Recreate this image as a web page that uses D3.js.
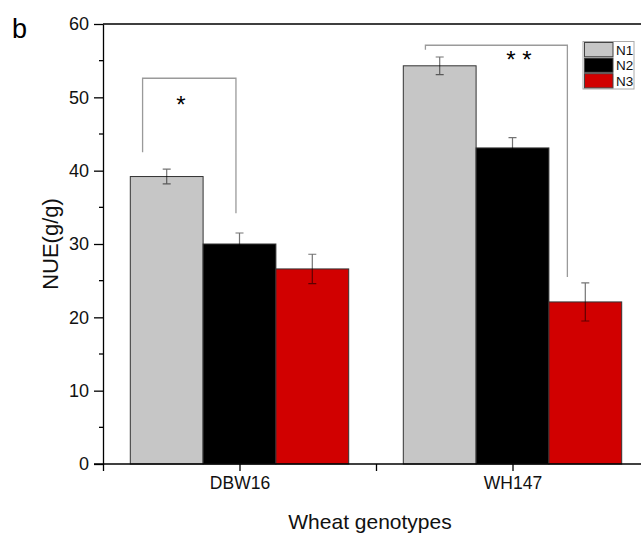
<!DOCTYPE html>
<html lang="en">
<head>
<meta charset="UTF-8">
<title>NUE bar chart</title>
<style>
  body { margin: 0; background: #fff; }
  svg { font-family: "Liberation Sans", Arial, sans-serif; display: block; }
  .bar { stroke: #333; stroke-width: 1px; }
  .err { stroke: rgba(0,0,0,0.55); stroke-width: 1.2px; }
  .bracket { fill: none; stroke: #9a9a9a; stroke-width: 1.3px; }
  .axis path, .axis line { stroke: #000; stroke-width: 1.3px; }
</style>
</head>
<body>
<svg width="641" height="533"></svg>
<script src="https://d3js.org/d3.v7.min.js"></script>
<script>
// data
const genotypes = ["DBW16", "WH147"];
const levels = ["N1", "N2", "N3"];
const colors = ["#c6c6c6", "#000000", "#d10000"];
const nue = [
  [39.2, 30.0, 26.6],   // DBW16
  [54.3, 43.1, 22.1]    // WH147
];
const sd = [
  [1.0, 1.5, 2.0],
  [1.2, 1.4, 2.6]
];
const yTicks = [0, 10, 20, 30, 40, 50, 60];

// significance brackets, in data units (x = category index)
const brackets = [
  { x1: 0.645, x2: 0.987, top: 52.6, left: 42.5, right: 34.2, label: "*",   lx: 0.785, ly: 49.6 },
  { x1: 1.681, x2: 2.201, top: 57.1, left: 56.5, right: 25.5, label: "* *", lx: 2.024, ly: 55.8 }
];

const svg = d3.select("svg");

// x position 1 = DBW16, 2 = WH147; frame runs 0.5 .. 2.5
const x = d3.scaleLinear().domain([0.5, 2.5]).range([103, 649]);
const y = d3.scaleLinear().domain([0, 60]).range([464, 24]);

const groupW = 0.8;
const barW = groupW / levels.length;

// frame top + right (right side falls off the picture)
svg.append("path")
  .attr("d", `M${x(0.5)},${y(60)}H${x(2.5)}V${y(0)}`)
  .attr("fill", "none").attr("stroke", "#000").attr("stroke-width", 1.3);

// bars
const g = svg.append("g");
genotypes.forEach((gen, i) => {
  levels.forEach((lv, j) => {
    const x0 = (i + 1) - groupW / 2 + j * barW;
    g.append("rect").attr("class", "bar")
      .attr("x", x(x0)).attr("width", x(x0 + barW) - x(x0))
      .attr("y", y(nue[i][j])).attr("height", y(0) - y(nue[i][j]))
      .attr("fill", colors[j]);
    const cx = x(x0 + barW / 2);
    const hi = y(nue[i][j] + sd[i][j]), lo = y(nue[i][j] - sd[i][j]);
    g.append("path").attr("class", "err")
      .attr("d", `M${cx},${hi}V${lo}M${cx - 4},${hi}H${cx + 4}M${cx - 4},${lo}H${cx + 4}`);
  });
});

// axes
const yAxis = svg.append("g").attr("class", "axis")
  .attr("transform", `translate(${x(0.5)},0)`)
  .call(d3.axisLeft(y).tickValues(yTicks).tickSize(9).tickSizeOuter(0).tickPadding(5))
  .attr("font-family", null).attr("font-size", 18);
yAxis.selectAll("text").attr("fill", "#111");
yAxis.selectAll(".minor").data(d3.range(5, 60, 10)).enter().append("line")
  .attr("x1", -4).attr("x2", 0).attr("y1", d => y(d)).attr("y2", d => y(d))
  .attr("stroke", "#000").attr("stroke-width", 1.3);

const xAxis = svg.append("g").attr("class", "axis")
  .attr("transform", `translate(0,${y(0)})`)
  .call(d3.axisBottom(x).tickValues([0.5, 1, 1.5, 2, 2.5])
    .tickFormat(d => Number.isInteger(d) ? genotypes[d - 1] : "")
    .tickSize(7).tickSizeOuter(0).tickPadding(6))
  .attr("font-family", null).attr("font-size", 17.5);
xAxis.selectAll("text").attr("fill", "#111");
xAxis.select(".domain").attr("d", `M94,0H${x(2.5)}`);

// brackets
brackets.forEach(b => {
  svg.append("path").attr("class", "bracket")
    .attr("d", `M${x(b.x1)},${y(b.left)}V${y(b.top)}H${x(b.x2)}V${y(b.right)}`);
  svg.append("text").attr("x", x(b.lx)).attr("y", y(b.ly) + 13)
    .attr("text-anchor", "middle").attr("font-size", 24)
    .text(b.label);
});

// legend
const lg = svg.append("g").attr("transform", "translate(583,41.5)");
lg.append("rect").attr("width", 51).attr("height", 47.5)
  .attr("fill", "#fff").attr("stroke", "#aaa").attr("stroke-width", 1);
levels.forEach((lv, j) => {
  lg.append("rect").attr("x", 1.5).attr("y", 1 + j * 15.6)
    .attr("width", 28.5).attr("height", 14.2)
    .attr("fill", colors[j]).attr("stroke", "#444").attr("stroke-width", 1);
  lg.append("text").attr("x", 33).attr("y", 13 + j * 15.6)
    .attr("font-size", 13.5).attr("fill", "#111").text(lv);
});

// labels
svg.append("text").attr("transform", `translate(58,${y(30)}) rotate(-90)`)
  .attr("text-anchor", "middle").attr("font-size", 22).attr("fill", "#111").text("NUE(g/g)");
svg.append("text").attr("x", 370).attr("y", 529)
  .attr("text-anchor", "middle").attr("font-size", 21).attr("fill", "#111").text("Wheat genotypes");
svg.append("text").attr("x", 12).attr("y", 38)
  .attr("font-size", 27).attr("fill", "#000").text("b");
</script>
</body>
</html>
